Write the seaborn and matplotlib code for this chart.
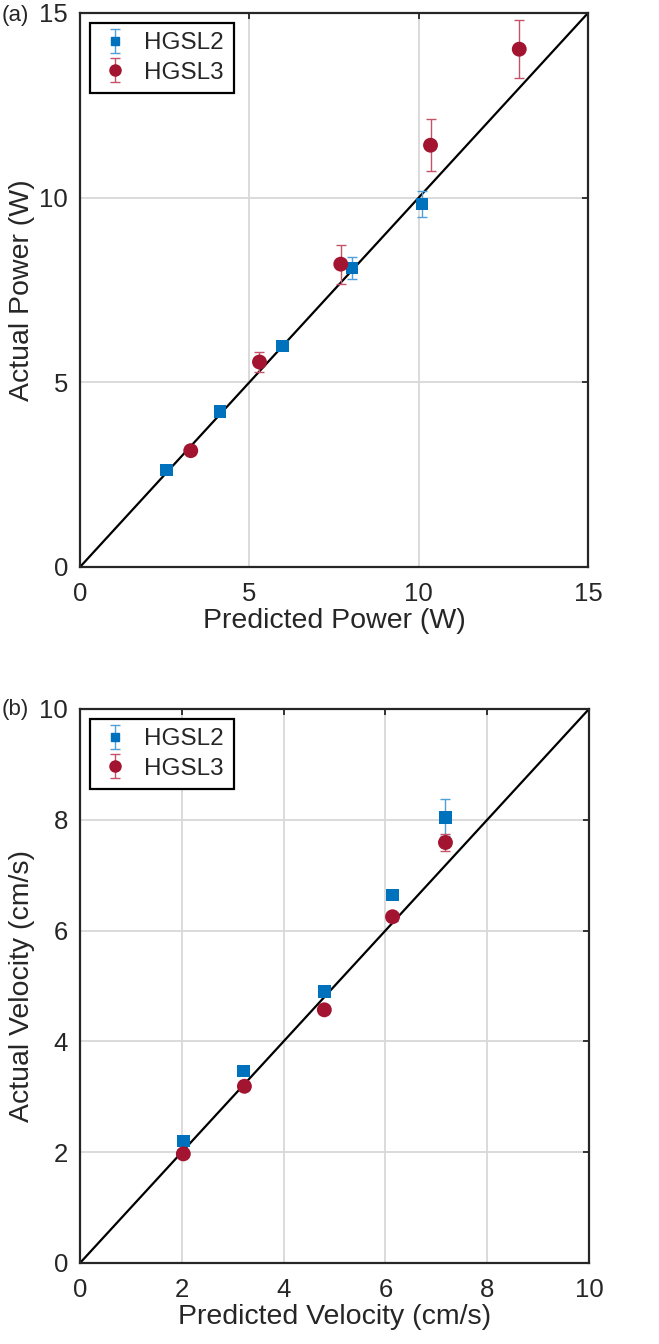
import numpy as np
import pandas as pd
import matplotlib
matplotlib.use("Agg")
import matplotlib.pyplot as plt
import seaborn as sns
from matplotlib.lines import Line2D
from matplotlib.legend_handler import HandlerTuple

# panel (a): power
power_pred_l2 = [2.55, 4.13, 5.98, 8.04, 10.10]
power_act_l2 = [2.63, 4.21, 5.98, 8.10, 9.83]
power_err_l2 = [0.08, 0.10, 0.10, 0.30, 0.36]
power_pred_l3 = [3.27, 5.30, 7.70, 10.35, 12.97]
power_act_l3 = [3.15, 5.55, 8.20, 11.42, 14.02]
power_err_l3 = [0.10, 0.28, 0.53, 0.70, 0.78]

# panel (b): velocity
vel_pred_l2 = [2.03, 3.21, 4.80, 6.14, 7.18]
vel_act_l2 = [2.20, 3.47, 4.90, 6.64, 8.04]
vel_err_l2 = [0.06, 0.06, 0.06, 0.07, 0.33]
vel_pred_l3 = [2.03, 3.23, 4.80, 6.14, 7.18]
vel_act_l3 = [1.97, 3.19, 4.57, 6.25, 7.59]
vel_err_l3 = [0.05, 0.05, 0.06, 0.07, 0.15]

power_ticks = [0, 5, 10, 15]
vel_ticks = [0, 2, 4, 6, 8, 10]

BLUE = "#0072BD"
RED = "#A2142F"
BLUE_ERR = "#4FA0DA"
RED_ERR = "#C4536A"
TXT = "#262626"

sns.set_theme(style="white")
plt.rcParams["font.family"] = ["Liberation Sans", "DejaVu Sans"]
plt.rcParams["text.color"] = TXT
plt.rcParams["axes.labelcolor"] = TXT


def panel(ax, pred2, act2, err2, pred3, act3, err3, ticks, xlabel, ylabel):
    lim = ticks[-1]
    df2 = pd.DataFrame({"x": pred2, "y": act2})
    df3 = pd.DataFrame({"x": pred3, "y": act3})
    eb2 = ax.errorbar(pred2, act2, yerr=err2, fmt="none", ecolor=BLUE_ERR,
                      elinewidth=1.0, capsize=3.3, capthick=1.0, zorder=3)
    eb3 = ax.errorbar(pred3, act3, yerr=err3, fmt="none", ecolor=RED_ERR,
                      elinewidth=1.0, capsize=3.3, capthick=1.0, zorder=3)
    sns.lineplot(x=[0, lim], y=[0, lim], color="black", linewidth=1.6, ax=ax, zorder=2)
    sns.scatterplot(data=df2, x="x", y="y", marker="s", s=80, color=BLUE,
                    edgecolor="none", ax=ax, zorder=4)
    sns.scatterplot(data=df3, x="x", y="y", marker="o", s=115, color=RED,
                    edgecolor="none", ax=ax, zorder=4)
    ax.set_xlim(0, lim)
    ax.set_ylim(0, lim)
    ax.set_xticks(ticks)
    ax.set_yticks(ticks)
    ax.grid(True, color="#d8d8d8", linewidth=1.3)
    ax.set_axisbelow(True)
    for sp in ax.spines.values():
        sp.set_color(TXT)
        sp.set_linewidth(1.6)
    ax.tick_params(direction="in", top=True, right=True, length=4, width=1.3,
                   color=TXT, labelcolor=TXT, labelsize=18.5)
    ax.tick_params(axis="x", pad=10.5)
    ax.tick_params(axis="y", pad=8.5)
    ax.set_xlabel(xlabel, fontsize=20.5, labelpad=2)
    ax.set_ylabel(ylabel, fontsize=20.5, labelpad=3)
    m2 = Line2D([], [], marker="s", color=BLUE, linestyle="none", markersize=6)
    m3 = Line2D([], [], marker="o", color=RED, linestyle="none", markersize=8)
    leg = ax.legend([(eb2, m2), (eb3, m3)], ["HGSL2", "HGSL3"],
                    handler_map={tuple: HandlerTuple(ndivide=1)},
                    loc="upper left", fontsize=17.5, fancybox=False, framealpha=1,
                    edgecolor="black", borderaxespad=0.4, handlelength=1.3,
                    handletextpad=0.55, labelspacing=0.3, borderpad=0.4)
    leg.get_frame().set_linewidth(1.6)


fig = plt.figure(figsize=(6.59, 13.44), dpi=100)
ax1 = fig.add_axes([80 / 659, 1 - 567 / 1344, 508 / 659, 554 / 1344])
ax2 = fig.add_axes([80 / 659, 1 - 1263 / 1344, 509 / 659, 554 / 1344])

panel(ax1, power_pred_l2, power_act_l2, power_err_l2,
      power_pred_l3, power_act_l3, power_err_l3,
      power_ticks, "Predicted Power (W)", "Actual Power (W)")
panel(ax2, vel_pred_l2, vel_act_l2, vel_err_l2,
      vel_pred_l3, vel_act_l3, vel_err_l3,
      vel_ticks, "Predicted Velocity (cm/s)", "Actual Velocity (cm/s)")

fig.text(2 / 659, 1 - 15 / 1344, "(a)", fontsize=16, va="center", ha="left")
fig.text(2 / 659, 1 - 709 / 1344, "(b)", fontsize=16, va="center", ha="left")

fig.savefig("out.png", dpi=100)
